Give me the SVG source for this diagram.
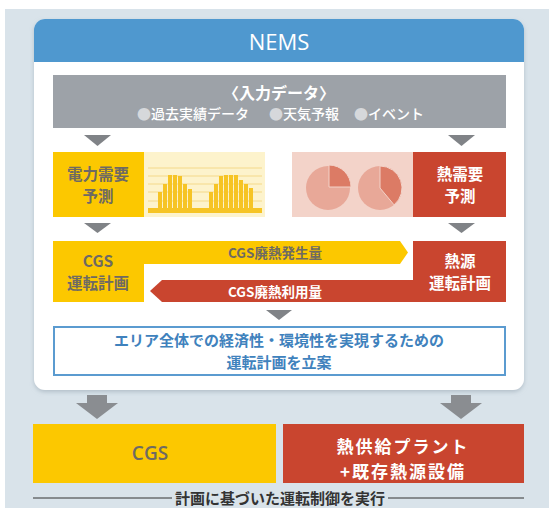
<svg xmlns="http://www.w3.org/2000/svg" width="549" height="508" viewBox="0 0 549 508">
<defs>
<style>
.jp{font-family:"Noto Sans CJK JP","Noto Sans",sans-serif;font-weight:bold;text-anchor:middle}
.gr{fill:#6e6a63}
.wh{fill:#ffffff}
.bl{fill:#3f82bd}
.tri{fill:#808387}
.yel{fill:#fcc800}
.red{fill:#c9452f}
</style>
<filter id="sh" x="-5%" y="-5%" width="110%" height="110%">
<feDropShadow dx="0" dy="2" stdDeviation="2" flood-color="#9aa8b4" flood-opacity="0.6"/>
</filter>
</defs>
<rect x="0" y="0" width="549" height="508" fill="#ffffff"/>
<rect x="5" y="9" width="544" height="499" fill="#d9e3ea"/>

<g id="nems-panel">
<rect x="34" y="19" width="490" height="371" rx="11" fill="#ffffff" filter="url(#sh)"/>
<path d="M34 62 V30 a11 11 0 0 1 11 -11 H513 a11 11 0 0 1 11 11 V62 Z" fill="#4f98cf"/>
<text x="279" y="50" font-family="'Open Sans','Noto Sans',sans-serif" font-size="22" fill="#ffffff" text-anchor="middle">NEMS</text>
</g>

<g id="input-data">
<rect x="53" y="75" width="453" height="53" fill="#9da2a8"/>
<text x="279" y="99" class="jp wh" font-size="16" font-weight="500">〈入力データ〉</text>
<g font-family="'Noto Sans CJK JP',sans-serif" font-size="14" fill="#ffffff" font-weight="500">
<text x="137" y="119"><tspan fill="#d6d8db">●</tspan>過去実績データ</text>
<text x="269" y="119"><tspan fill="#d6d8db">●</tspan>天気予報</text>
<text x="354" y="119"><tspan fill="#d6d8db">●</tspan>イベント</text>
</g>
</g>

<g id="connectors">
<polygon class="tri" points="84,135 111,135 97.5,146"/>
<polygon class="tri" points="448,135 475,135 461.5,146"/>
<polygon class="tri" points="84,223 111,223 97.5,233"/>
<polygon class="tri" points="448,223 475,223 461.5,233"/>
<polygon class="tri" points="266,310 292,310 279,320"/>
<polygon points="87,395 107,395 107,403 118,403 97,419 76,403 87,403" fill="#8a8d91"/>
<polygon points="451,395 471,395 471,403 482,403 461,419 440,403 451,403" fill="#8a8d91"/>
</g>

<g id="power-demand">
<rect class="yel" x="53" y="152" width="91" height="65"/>
<text x="98" y="180" class="jp gr" font-size="15.5">電力需要</text>
<text x="98" y="202" class="jp gr" font-size="15.5">予測</text>
</g>

<g id="power-chart">
<rect x="144" y="152" width="121" height="65" fill="#fdf3cc"/>
<g stroke="#f4d98a" stroke-width="1">
<line x1="148" y1="168" x2="262" y2="168"/>
<line x1="148" y1="176" x2="262" y2="176"/>
<line x1="148" y1="184" x2="262" y2="184"/>
<line x1="148" y1="192" x2="262" y2="192"/>
<line x1="148" y1="201" x2="262" y2="201"/>
</g>
<g fill="#f6c425">
<rect x="148" y="208" width="114" height="5"/>
<rect x="158" y="192" width="4" height="17"/>
<rect x="163" y="184" width="4" height="25"/>
<rect x="168" y="175" width="4" height="34"/>
<rect x="173" y="175" width="4" height="34"/>
<rect x="178" y="176" width="4" height="33"/>
<rect x="183" y="184" width="4" height="25"/>
<rect x="188" y="189" width="4" height="20"/>
<rect x="209" y="192" width="4" height="17"/>
<rect x="214" y="184" width="4" height="25"/>
<rect x="219" y="176" width="4" height="33"/>
<rect x="224" y="175" width="4" height="34"/>
<rect x="229" y="175" width="4" height="34"/>
<rect x="234" y="175" width="4" height="34"/>
<rect x="239" y="180" width="4" height="29"/>
<rect x="244" y="184" width="4" height="25"/>
<rect x="249" y="188" width="4" height="21"/>
</g>
</g>

<g id="heat-chart">
<rect x="292" y="152" width="121" height="65" fill="#f3d3c9"/>
<circle cx="328" cy="188" r="22" fill="#e8a898"/>
<path d="M329 187 V165 A22 22 0 0 1 351 187 Z" fill="#dc7b65" stroke="#f3d3c9" stroke-width="1"/>
<circle cx="380" cy="188" r="22" fill="#e8a898"/>
<path d="M380 188 V166 A22 22 0 0 1 394.1 204.9 Z" fill="#dc7b65" stroke="#f3d3c9" stroke-width="1"/>
</g>

<g id="heat-demand">
<rect class="red" x="413" y="152" width="93" height="65"/>
<text x="460" y="180" class="jp wh" font-size="15.5">熱需要</text>
<text x="460" y="202" class="jp wh" font-size="15.5">予測</text>
</g>

<g id="cgs-plan">
<rect class="yel" x="53" y="241" width="91" height="61"/>
<text x="98" y="267" class="jp gr" font-size="15.5">CGS</text>
<text x="98" y="289" class="jp gr" font-size="15.5">運転計画</text>
</g>

<g id="cgs-heat-generation">
<polygon class="yel" points="143,241 400,241 408,252.5 400,264 143,264"/>
<text x="275" y="258" class="jp gr" font-size="13.5">CGS廃熱発生量</text>
</g>

<g id="cgs-heat-use">
<polygon class="red" points="414,280 162,280 150,291 162,302 414,302"/>
<text x="275" y="297" class="jp wh" font-size="13.5">CGS廃熱利用量</text>
</g>

<g id="heat-source-plan">
<rect class="red" x="413" y="241" width="93" height="61"/>
<text x="460" y="267" class="jp wh" font-size="15.5">熱源</text>
<text x="460" y="289" class="jp wh" font-size="15.5">運転計画</text>
</g>

<g id="area-plan">
<rect x="54" y="327" width="451" height="48" fill="#ffffff" stroke="#5b9bd0" stroke-width="2"/>
<text x="279" y="346" class="jp bl" font-size="15">エリア全体での経済性・環境性を実現するための</text>
<text x="279" y="368" class="jp bl" font-size="15">運転計画を立案</text>
</g>

<g id="cgs">
<rect class="yel" x="33" y="424" width="243" height="59"/>
<text x="150" y="460" font-family="'Open Sans','Noto Sans',sans-serif" font-weight="600" font-size="19" fill="#6e6a63" text-anchor="middle">CGS</text>
</g>

<g id="heat-plant">
<rect class="red" x="283" y="424" width="241" height="59"/>
<text x="403" y="453" class="jp wh" font-size="17" letter-spacing="2">熱供給プラント</text>
<text x="403" y="477.5" class="jp wh" font-size="17" letter-spacing="2">+既存熱源設備</text>
</g>

<g id="execute">
<line x1="33" y1="498" x2="172" y2="498" stroke="#333333" stroke-width="1"/>
<line x1="388" y1="498" x2="524" y2="498" stroke="#333333" stroke-width="1"/>
<text x="280" y="503.5" class="jp" font-size="15" fill="#333333">計画に基づいた運転制御を実行</text>
</g>
</svg>
